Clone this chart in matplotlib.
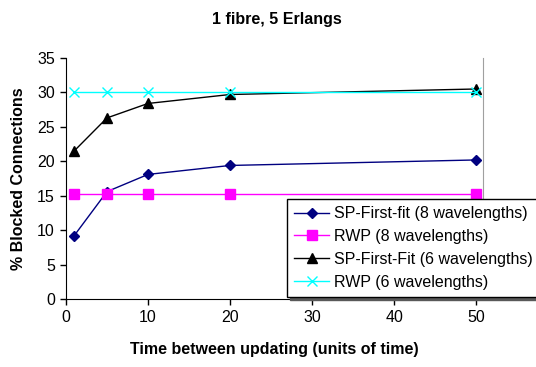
import matplotlib.pyplot as plt

plt.rcParams['font.family'] = ['Liberation Sans', 'DejaVu Sans']

# data
times = [1, 5, 10, 20, 50]
sp_ff_8 = [9.2, 15.6, 18.1, 19.4, 20.2]
rwp_8 = [15.3, 15.3, 15.3, 15.3, 15.3]
sp_ff_6 = [21.5, 26.3, 28.4, 29.7, 30.5]
rwp_6 = [30.0, 30.0, 30.0, 30.0, 30.0]

fs = 11.5

fig = plt.figure(figsize=(5.36, 3.67), dpi=100)
ax = fig.add_axes([0.123, 0.185, 0.778, 0.657])

ax.plot(times, sp_ff_8, color='#000080', marker='D', markersize=5.5, lw=1,
        label='SP-First-fit (8 wavelengths)')
ax.plot(times, rwp_8, color='#FF00FF', marker='s', markersize=7, lw=1,
        label='RWP (8 wavelengths)')
ax.plot(times, sp_ff_6, color='black', marker='^', markersize=7, lw=1,
        label='SP-First-Fit (6 wavelengths)')
ax.plot(times, rwp_6, color='#00FFFF', marker='x', markersize=7, mew=1, lw=1,
        label='RWP (6 wavelengths)')

ax.set_xlim(0, 50.8)
ax.set_ylim(0, 35)
ax.set_xticks(range(0, 51, 10))
ax.set_yticks(range(0, 36, 5))
ax.tick_params(direction='out', length=4, labelsize=fs, width=1, pad=4)

ax.spines['top'].set_visible(False)
ax.spines['right'].set_color('#A0A0A0')
ax.spines['left'].set_color('black')
ax.spines['bottom'].set_color('black')

ax.set_xlabel('Time between updating (units of time)', fontsize=fs, fontweight='bold', labelpad=12)
ax.set_ylabel('% Blocked Connections', fontsize=fs, fontweight='bold', labelpad=8)
fig.suptitle('1 fibre, 5 Erlangs', fontsize=fs, fontweight='bold', x=0.517, y=0.968)

leg = fig.legend(loc='upper left', bbox_to_anchor=(0.535, 0.458), fontsize=fs,
                 frameon=True, fancybox=False, shadow={'color': '0.35', 'alpha': 1},
                 edgecolor='black', framealpha=1, handlelength=2.2,
                 labelspacing=0.5, borderpad=0.45, handletextpad=0.3,
                 borderaxespad=0)
leg.get_frame().set_linewidth(1)

fig.savefig('out.png', dpi=100)
